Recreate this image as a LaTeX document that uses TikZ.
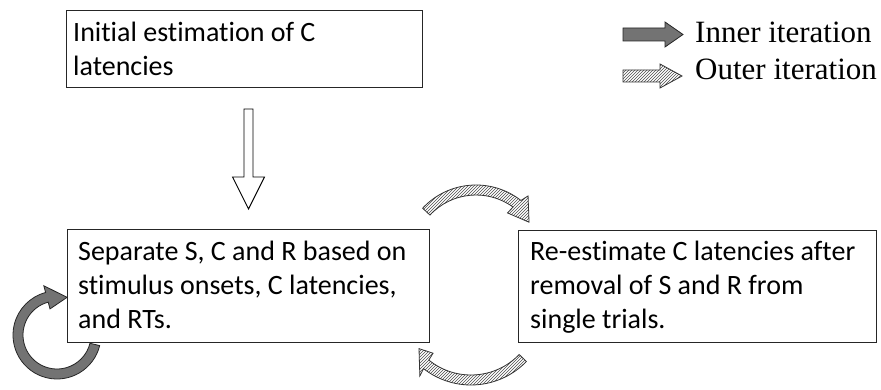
\documentclass[tikz,border=0pt]{standalone}
\usepackage{fontspec}
\setmainfont[Ligatures=NoCommon]{Carlito}
\newfontfamily\legendfont{Liberation Serif}
\usetikzlibrary{patterns,calc}
\begin{document}
\begin{tikzpicture}[x=1pt,y=1pt,
  box/.style={draw=black!85, line width=1pt, fill=white, inner sep=0, anchor=north west},
  txt/.style={anchor=base west, align=left, inner sep=0, font=\fontsize{28}{34}\selectfont},
  hatch/.style={draw=black!80, line width=0.8pt, preaction={fill=white}, pattern=north east lines, pattern color=black!70},
  solidarr/.style={draw=black!85, line width=0.8pt, fill=black!55},
  hollow/.style={draw=black, line width=0.9pt, fill=white},
  leg/.style={anchor=base west, inner sep=0, font=\legendfont\fontsize{31}{36}\selectfont}]
\useasboundingbox (0,0) rectangle (881,-390);

% boxes
\node[box, minimum width=356, minimum height=77] (b1) at (66,-10) {};
\node[box, minimum width=362, minimum height=113] (b2) at (67,-229) {};
\node[box, minimum width=358, minimum height=112] (b3) at (518,-230) {};

% texts (anchor = baseline of the last line)
\node[txt] (t1) at (73,-76) {Initial estimation of C\\latencies};
\node[txt] (t2) at (78,-328) {Separate S, C and R based on\\stimulus onsets, C latencies,\\and RTs.};
\node[txt] (t3) at (530,-328) {Re-estimate C latencies after\\removal of S and R from\\single trials.};

% hollow down arrow between b1 and b2
\coordinate (ds) at ($(b1.south)+(4,-21)$);
\draw[hollow] ($(ds)+(-4.5,0)$) -- ($(ds)+(4.5,0)$) -- ($(ds)+(4.5,-68)$) -- ($(ds)+(16,-68)$)
  -- ($(ds)+(0,-100)$) -- ($(ds)+(-16,-68)$) -- ($(ds)+(-4.5,-68)$) -- cycle;

% outer iteration arcs
\coordinate (c1) at (476,-258);
\draw[hatch] ($(c1)+(137:73)$) arc[start angle=137, end angle=52, radius=73]
  -- ($(c1)+(50:81)$) -- ($(c1)+(34:64)$) -- ($(c1)+(55:55)$)
  -- ($(c1)+(54:63)$) arc[start angle=54, end angle=137, radius=63] -- cycle;

\coordinate (c2) at (471,-308);
\draw[hatch] ($(c2)+(-44:77)$) arc[start angle=-44, end angle=-128, radius=77]
  -- ($(c2)+(-127:85)$) -- ($(c2)+(-142:66)$) -- ($(c2)+(-130:59)$)
  -- ($(c2)+(-129:67)$) arc[start angle=-129, end angle=-44, radius=67] -- cycle;

% inner iteration ring
\coordinate (c3) at (57,-335);
\draw[solidarr] ($(c3)+(-14:44)$) arc[start angle=-14, end angle=-255, radius=44]
  -- ($(c3)+(-255:51)$) -- ($(c3)+(75:39)$) -- ($(c3)+(-255:27)$)
  -- ($(c3)+(-255:34)$) arc[start angle=-255, end angle=-14, radius=34] -- cycle;

% legend
\draw[solidarr] (623,-28) -- (665,-28) -- (665,-22) -- (683,-34.5) -- (665,-47) -- (665,-41) -- (623,-41) -- cycle;
\draw[hatch] (623,-70) -- (660,-70) -- (660,-64) -- (682,-76) -- (660,-88) -- (660,-82) -- (623,-82) -- cycle;
\node[leg] (l1) at (695,-43) {Inner iteration};
\node[leg] (l2) at (695,-80) {Outer iteration};
\end{tikzpicture}
\end{document}
